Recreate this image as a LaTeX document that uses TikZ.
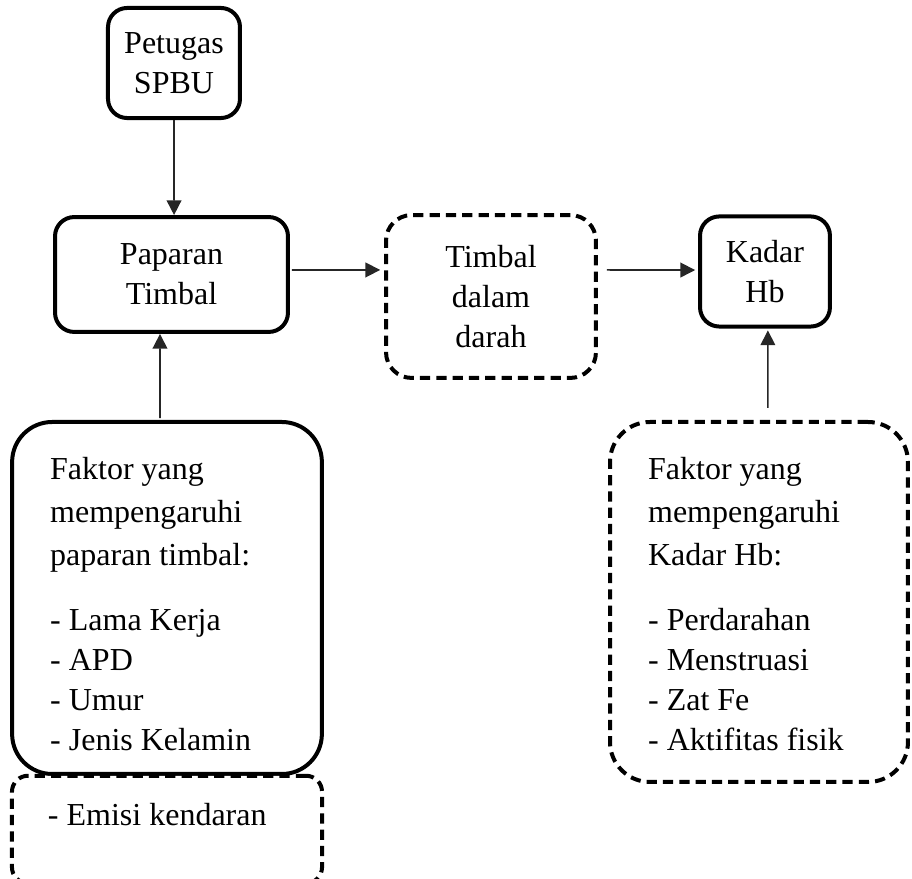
\documentclass[tikz,border=0pt]{standalone}
\usepackage{fontspec}
\setmainfont{Liberation Serif}
\usetikzlibrary{positioning, arrows.meta}

\tikzset{
    frame/.style={draw, line width=1.25pt, rounded corners=6pt, align=flush center, inner sep=0pt},
    dashframe/.style={frame, dash pattern=on 3.2pt off 1.9pt},
    listframe/.style={draw, line width=1.25pt, rounded corners=12.5pt, align=flush left,
        inner xsep=11.9pt, inner ysep=0pt},
    arrow/.style={black!85, line width=0.5pt, -{Triangle[length=4.6pt, width=4.6pt]}}
}

\begin{document}
\begin{tikzpicture}[x=0.3125pt, y=-0.3125pt, font=\fontsize{10}{12.5}\selectfont]
    \useasboundingbox (0,0) rectangle (912,879);
    \node (pet) [frame, minimum width=41.25pt, minimum height=34.4pt] at (174,63) {Petugas\\SPBU};
    \node (pap) [frame, minimum width=72.8pt, minimum height=35.9pt] at (171.5,274.5) {Paparan\\Timbal};
    \node (tim) [dashframe, rounded corners=8pt, minimum width=65.6pt, minimum height=50.9pt] at (491,296.5) {Timbal\\dalam\\darah};
    \node (kad) [frame, minimum width=40.6pt, minimum height=34.4pt] at (765,271.5) {Kadar\\Hb};
    \node (fak) [listframe, text width=73pt, anchor=north] at (167,420) {\rule{0pt}{18.1pt}Faktor yang\\[0.9pt]
        mempengaruhi\\[0.9pt] paparan timbal:\\[7.9pt] - Lama Kerja\\ - APD\\ - Umur\\
        - Jenis Kelamin\rule[-7.2pt]{0pt}{7.2pt}};
    \node (emi) [listframe, dash pattern=on 3.2pt off 1.9pt, rounded corners=5pt, fill=white,
        inner xsep=11.25pt, text width=74.4pt, below=-0.7pt of fak] {\rule{0pt}{15.6pt}- Emisi kendaran\rule[-18pt]{0pt}{18pt}};
    \node (rig) [listframe, dash pattern=on 3.2pt off 1.9pt, text width=69.3pt, anchor=north] at (759,420) {\rule{0pt}{18.1pt}Faktor yang\\[0.9pt]
        mempengaruhi\\[0.9pt] Kadar Hb:\\[7.9pt] - Perdarahan\\ - Menstruasi\\ - Zat Fe\\
        - Aktifitas fisik\rule[-9.7pt]{0pt}{9.7pt}};
    \path [arrow]
    (pet.south) edge ([xshift=0.8pt]pap.north)
    ([yshift=1.4pt]pap.east) edge[shorten <=0.6pt, shorten >=1.2pt] ([yshift=8.3pt]tim.west)
    ([yshift=8.3pt]tim.east) edge[shorten <=2.8pt, shorten >=0.9pt] ([yshift=0.45pt]kad.west)
    ([xshift=-2.2pt]fak.north) edge[shorten <=0.6pt] ([xshift=-3.6pt]pap.south)
    ([xshift=2.8pt]rig.north) edge[shorten <=3.75pt, shorten >=0.6pt] ([xshift=0.9pt]kad.south);
\end{tikzpicture}
\end{document}
